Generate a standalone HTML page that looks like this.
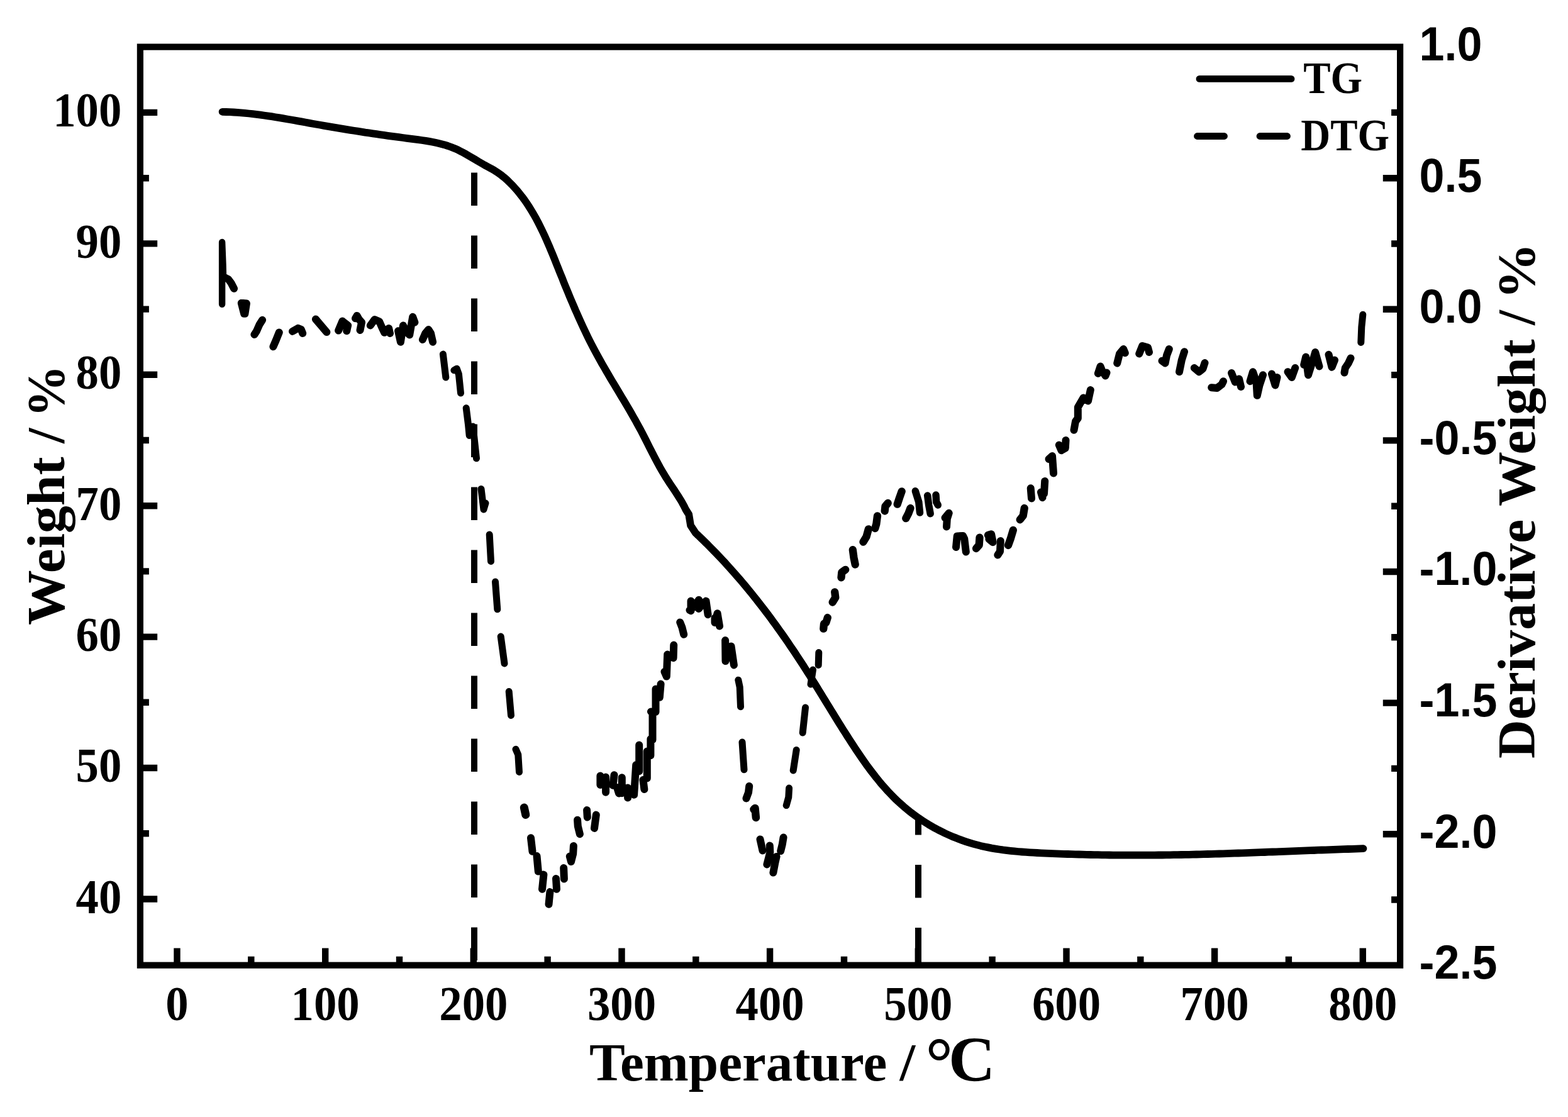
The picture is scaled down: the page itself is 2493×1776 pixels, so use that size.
<!DOCTYPE html>
<html lang="en"><head><meta charset="utf-8"><title>TG / DTG curves</title>
<style>
html,body{margin:0;padding:0;background:#fff;}
body{width:2493px;height:1776px;overflow:hidden;}
svg{display:block;}
</style></head>
<body>
<svg width="2493" height="1776" viewBox="0 0 2493 1776">
<rect x="222.9" y="74.6" width="2003.2" height="1460.1" fill="none" stroke="#000" stroke-width="10.2"/>
<path d="M281.5 1534.7V1507.4M399.3 1534.7V1520.7M517.2 1534.7V1507.4M635.0 1534.7V1520.7M752.8 1534.7V1507.4M870.6 1534.7V1520.7M988.5 1534.7V1507.4M1106.3 1534.7V1520.7M1224.1 1534.7V1507.4M1342.0 1534.7V1520.7M1459.8 1534.7V1507.4M1577.6 1534.7V1520.7M1695.5 1534.7V1507.4M1813.3 1534.7V1520.7M1931.1 1534.7V1507.4M2048.9 1534.7V1520.7M2166.8 1534.7V1507.4M222.9 1429.5H250.2M222.9 1325.3H236.9M222.9 1221.0H250.2M222.9 1116.8H236.9M222.9 1012.6H250.2M222.9 908.4H236.9M222.9 804.2H250.2M222.9 700.0H236.9M222.9 595.8H250.2M222.9 491.6H236.9M222.9 387.4H250.2M222.9 283.2H236.9M222.9 178.9H250.2M2226.1 1430.5H2212.1M2226.1 1326.2H2198.8M2226.1 1221.9H2212.1M2226.1 1117.6H2198.8M2226.1 1013.3H2212.1M2226.1 909.0H2198.8M2226.1 804.7H2212.1M2226.1 700.4H2198.8M2226.1 596.1H2212.1M2226.1 491.8H2198.8M2226.1 387.5H2212.1M2226.1 283.2H2198.8M2226.1 178.9H2212.1" stroke="#000" stroke-width="10.4" fill="none"/>
<g font-family="'Liberation Serif', serif" font-weight="bold" font-size="77.4px"><text transform="translate(281.50 1621.60) scale(0.9400 1)" text-anchor="middle">0</text><text transform="translate(517.16 1621.60) scale(0.9400 1)" text-anchor="middle">100</text><text transform="translate(752.82 1621.60) scale(0.9400 1)" text-anchor="middle">200</text><text transform="translate(988.48 1621.60) scale(0.9400 1)" text-anchor="middle">300</text><text transform="translate(1224.14 1621.60) scale(0.9400 1)" text-anchor="middle">400</text><text transform="translate(1459.80 1621.60) scale(0.9400 1)" text-anchor="middle">500</text><text transform="translate(1695.46 1621.60) scale(0.9400 1)" text-anchor="middle">600</text><text transform="translate(1931.12 1621.60) scale(0.9400 1)" text-anchor="middle">700</text><text transform="translate(2166.78 1621.60) scale(0.9400 1)" text-anchor="middle">800</text><text transform="translate(193.30 1451.87) scale(0.9400 1)" text-anchor="end">40</text><text transform="translate(193.30 1243.45) scale(0.9400 1)" text-anchor="end">50</text><text transform="translate(193.30 1035.03) scale(0.9400 1)" text-anchor="end">60</text><text transform="translate(193.30 826.61) scale(0.9400 1)" text-anchor="end">70</text><text transform="translate(193.30 618.19) scale(0.9400 1)" text-anchor="end">80</text><text transform="translate(193.30 409.77) scale(0.9400 1)" text-anchor="end">90</text><text transform="translate(193.30 201.35) scale(0.9400 1)" text-anchor="end">100</text></g>
<g font-family="'Liberation Sans', sans-serif" font-weight="bold" font-size="76px"><text transform="translate(2256.60 1556.10) scale(0.9450 1)" text-anchor="start">-2.5</text><text transform="translate(2256.60 1347.50) scale(0.9450 1)" text-anchor="start">-2.0</text><text transform="translate(2256.60 1138.90) scale(0.9450 1)" text-anchor="start">-1.5</text><text transform="translate(2256.60 930.30) scale(0.9450 1)" text-anchor="start">-1.0</text><text transform="translate(2256.60 721.70) scale(0.9450 1)" text-anchor="start">-0.5</text><text transform="translate(2256.60 513.10) scale(0.9450 1)" text-anchor="start">0.0</text><text transform="translate(2256.60 304.50) scale(0.9450 1)" text-anchor="start">0.5</text><text transform="translate(2256.60 95.90) scale(0.9450 1)" text-anchor="start">1.0</text></g>
<g font-family="'Liberation Serif', serif" font-weight="bold"><text transform="translate(0 1717.8)"><tspan x="937.0" y="0.0" textLength="473.2" lengthAdjust="spacingAndGlyphs" font-size="85.5px">Temperature</tspan><tspan> </tspan><tspan x="1430.4" y="0.0" textLength="24.7" lengthAdjust="spacingAndGlyphs" font-size="85.5px">/</tspan><tspan> </tspan><tspan x="1469.8" y="19.2" textLength="47.0" lengthAdjust="spacingAndGlyphs" font-size="120px" font-family="'Liberation Sans', sans-serif" font-weight="normal">°</tspan><tspan x="1507.9" y="1.5" textLength="74.3" lengthAdjust="spacingAndGlyphs" font-size="100.8px">C</tspan></text><text transform="translate(101.75 993) rotate(-90)"><tspan x="-1.0" y="0.0" textLength="267.8" lengthAdjust="spacingAndGlyphs" font-size="84px">Weight</tspan><tspan> </tspan><tspan x="288.0" y="0.0" textLength="24.3" lengthAdjust="spacingAndGlyphs" font-size="84px">/</tspan><tspan> </tspan><tspan x="329.6" y="0.0" textLength="83.0" lengthAdjust="spacingAndGlyphs" font-size="84px">%</tspan></text><text transform="translate(2440.0 1205) rotate(-90)"><tspan x="-1.0" y="0.0" textLength="380.2" lengthAdjust="spacingAndGlyphs" font-size="84px">Derivative</tspan><tspan> </tspan><tspan x="400.0" y="0.0" textLength="265.7" lengthAdjust="spacingAndGlyphs" font-size="84px">Weight</tspan><tspan> </tspan><tspan x="688.0" y="0.0" textLength="23.8" lengthAdjust="spacingAndGlyphs" font-size="84px">/</tspan><tspan> </tspan><tspan x="729.1" y="0.0" textLength="90.0" lengthAdjust="spacingAndGlyphs" font-size="84px">%</tspan></text></g>
<g font-family="'Liberation Serif', serif" font-weight="bold" font-size="71px"><text transform="translate(2072.20 148.00) scale(0.9150 1)" text-anchor="start">TG</text><text transform="translate(2068.30 238.70) scale(0.9150 1)" text-anchor="start">DTG</text></g>
<g stroke="#000" stroke-width="10.8" stroke-linecap="round" fill="none"><path d="M1907 125.4H2053"/><path d="M1903.5 216.5H1946.5M2003 216.5H2046.5"/></g>
<path d="M754 274.5V327.0M754 374.5V427.0M754 474.5V527.0M754 574.5V627.0M754 674.5V727.0M754 774.5V827.0M754 874.5V927.0M754 974.5V1027.0M754 1074.5V1127.0M754 1174.5V1227.0M754 1274.5V1327.0M754 1374.5V1427.0M754 1474.5V1527.0M1460 1298V1327.6M1460 1375V1427.5M1460 1475V1527.5" stroke="#000" stroke-width="10" fill="none"/>
<path d="M353.6 177.8L359.6 178.0L365.6 178.2L371.7 178.5L377.7 178.9L383.7 179.4L389.7 179.9L395.7 180.5L401.7 181.2L407.7 181.9L413.7 182.6L419.7 183.5L425.7 184.3L431.7 185.2L437.7 186.2L443.6 187.1L449.6 188.1L455.6 189.2L461.6 190.2L467.6 191.3L473.5 192.4L479.5 193.4L485.5 194.5L491.4 195.6L497.4 196.7L503.3 197.8L509.3 198.8L515.2 199.9L521.2 200.9L527.1 201.9L533.1 202.9L539.0 203.9L545.0 204.9L550.9 205.9L556.9 206.8L562.8 207.8L568.8 208.7L574.8 209.6L580.7 210.6L586.7 211.4L592.7 212.3L598.6 213.2L604.6 214.1L610.6 214.9L616.6 215.8L622.6 216.6L628.6 217.4L634.6 218.2L640.7 219.0L646.7 219.8L652.7 220.6L658.8 221.4L664.8 222.2L670.9 223.0L676.9 223.9L682.9 224.9L688.8 226.0L694.7 227.3L700.6 228.7L706.4 230.2L712.1 232.0L717.7 234.0L723.3 236.2L728.8 238.7L734.1 241.4L739.4 244.3L744.7 247.3L749.9 250.3L755.1 253.4L760.2 256.5L765.4 259.5L770.6 262.5L775.9 265.4L781.2 268.2L786.4 271.2L791.5 274.4L796.4 278.0L801.2 281.8L805.8 285.8L810.2 290.1L814.5 294.4L818.6 298.9L822.6 303.4L826.4 308.1L830.1 312.8L833.7 317.6L837.1 322.5L840.4 327.5L843.6 332.6L846.7 337.7L849.7 342.9L852.7 348.2L855.5 353.5L858.2 358.9L860.9 364.3L863.5 369.7L866.1 375.2L868.6 380.8L871.0 386.3L873.4 391.9L875.7 397.5L878.1 403.1L880.4 408.8L882.7 414.4L884.9 420.1L887.2 425.7L889.4 431.4L891.7 437.0L894.0 442.6L896.2 448.3L898.5 453.9L900.8 459.5L903.1 465.1L905.4 470.7L907.7 476.2L910.1 481.8L912.5 487.4L914.8 492.9L917.3 498.4L919.7 503.9L922.2 509.4L924.7 514.9L927.2 520.4L929.8 525.8L932.4 531.3L935.0 536.7L937.7 542.1L940.4 547.4L943.2 552.8L946.0 558.1L948.9 563.4L951.8 568.7L954.8 574.0L957.7 579.3L960.8 584.5L963.8 589.7L966.9 595.0L969.9 600.2L973.0 605.4L976.1 610.6L979.3 615.8L982.4 621.0L985.5 626.2L988.6 631.4L991.7 636.6L994.8 641.8L997.9 647.0L1001.0 652.3L1004.0 657.5L1007.0 662.8L1010.0 668.0L1012.9 673.3L1015.8 678.6L1018.7 683.9L1021.5 689.3L1024.3 694.7L1027.0 700.0L1029.7 705.4L1032.4 710.8L1035.2 716.2L1037.9 721.6L1040.7 726.9L1043.5 732.3L1046.3 737.6L1049.2 742.9L1052.2 748.1L1055.3 753.3L1058.4 758.5L1061.7 763.6L1065.0 768.7L1068.4 773.7L1071.8 778.8L1075.1 783.9L1078.4 789.0L1081.6 794.1L1084.7 799.3L1087.6 804.6L1090.2 810.0L1095.2 818.0L1098.1 835.6L1106.0 847.5L1110.4 851.6L1114.7 855.8L1119.1 860.0L1123.4 864.2L1127.6 868.5L1131.9 872.8L1136.1 877.1L1140.3 881.4L1144.4 885.8L1148.6 890.2L1152.7 894.6L1156.7 899.1L1160.8 903.6L1164.8 908.1L1168.8 912.6L1172.7 917.1L1176.7 921.7L1180.6 926.3L1184.5 930.9L1188.3 935.5L1192.2 940.2L1196.0 944.9L1199.7 949.6L1203.5 954.3L1207.2 959.1L1210.9 963.8L1214.6 968.6L1218.2 973.4L1221.9 978.2L1225.5 983.1L1229.0 987.9L1232.6 992.8L1236.1 997.7L1239.6 1002.6L1243.1 1007.5L1246.6 1012.5L1250.0 1017.4L1253.5 1022.4L1256.8 1027.4L1260.2 1032.4L1263.6 1037.4L1266.9 1042.4L1270.2 1047.4L1273.5 1052.5L1276.8 1057.5L1280.0 1062.6L1283.2 1067.7L1286.5 1072.7L1289.6 1077.8L1292.8 1082.9L1296.0 1088.0L1299.2 1093.2L1302.3 1098.3L1305.5 1103.4L1308.6 1108.5L1311.8 1113.7L1314.9 1118.8L1318.1 1123.9L1321.2 1129.0L1324.4 1134.2L1327.6 1139.3L1330.7 1144.4L1333.9 1149.6L1337.1 1154.7L1340.3 1159.8L1343.6 1164.9L1346.8 1170.0L1350.1 1175.1L1353.4 1180.2L1356.7 1185.3L1360.0 1190.4L1363.4 1195.4L1366.8 1200.4L1370.2 1205.4L1373.7 1210.4L1377.2 1215.4L1380.8 1220.3L1384.4 1225.1L1388.1 1229.9L1391.8 1234.7L1395.6 1239.4L1399.4 1244.1L1403.3 1248.7L1407.3 1253.2L1411.4 1257.7L1415.5 1262.0L1419.7 1266.3L1423.9 1270.6L1428.3 1274.7L1432.7 1278.7L1437.2 1282.7L1441.8 1286.5L1446.5 1290.3L1451.3 1294.0L1456.1 1297.5L1461.0 1301.0L1466.0 1304.3L1471.1 1307.6L1476.2 1310.8L1481.4 1313.8L1486.6 1316.8L1491.9 1319.6L1497.3 1322.3L1502.7 1325.0L1508.2 1327.5L1513.7 1329.9L1519.2 1332.1L1524.8 1334.3L1530.5 1336.4L1536.2 1338.3L1541.9 1340.1L1547.7 1341.8L1553.5 1343.4L1559.3 1344.9L1565.2 1346.2L1571.0 1347.4L1576.9 1348.6L1582.9 1349.6L1588.8 1350.5L1594.8 1351.4L1600.8 1352.1L1606.8 1352.8L1612.8 1353.4L1618.8 1354.0L1624.9 1354.5L1630.9 1354.9L1637.0 1355.3L1643.0 1355.7L1649.1 1356.0L1655.1 1356.3L1661.2 1356.6L1667.2 1356.9L1673.3 1357.1L1679.3 1357.3L1685.4 1357.6L1691.4 1357.8L1697.5 1358.0L1703.5 1358.2L1709.5 1358.4L1715.6 1358.5L1721.6 1358.7L1727.6 1358.8L1733.7 1359.0L1739.7 1359.1L1745.7 1359.2L1751.7 1359.3L1757.7 1359.4L1763.8 1359.5L1769.8 1359.6L1775.8 1359.6L1781.8 1359.7L1787.8 1359.7L1793.8 1359.7L1799.9 1359.7L1805.9 1359.7L1811.9 1359.7L1817.9 1359.7L1823.9 1359.7L1830.0 1359.7L1836.0 1359.6L1842.0 1359.5L1848.0 1359.5L1854.0 1359.4L1860.1 1359.3L1866.1 1359.2L1872.1 1359.1L1878.1 1359.0L1884.2 1358.9L1890.2 1358.8L1896.2 1358.6L1902.3 1358.5L1908.3 1358.3L1914.3 1358.2L1920.3 1358.0L1926.4 1357.8L1932.4 1357.7L1938.4 1357.5L1944.5 1357.3L1950.5 1357.1L1956.5 1356.9L1962.6 1356.7L1968.6 1356.5L1974.6 1356.3L1980.7 1356.1L1986.7 1355.9L1992.7 1355.6L1998.8 1355.4L2004.8 1355.2L2010.8 1355.0L2016.8 1354.7L2022.9 1354.5L2028.9 1354.3L2034.9 1354.1L2041.0 1353.8L2047.0 1353.6L2053.0 1353.4L2059.1 1353.1L2065.1 1352.9L2071.1 1352.7L2077.2 1352.4L2083.2 1352.2L2089.2 1352.0L2095.2 1351.7L2101.3 1351.5L2107.3 1351.3L2113.3 1351.1L2119.3 1350.9L2125.4 1350.6L2131.4 1350.4L2137.4 1350.2L2143.4 1350.0L2149.4 1349.8L2155.5 1349.6L2161.5 1349.4L2167.5 1349.2" stroke="#000" stroke-width="11.8" stroke-linecap="round" stroke-linejoin="round" fill="none"/>
<path d="M353.1 483.8L353.1 385.0L354.5 420.0L355.0 440.0" stroke="#000" stroke-width="10.4" stroke-linecap="round" stroke-linejoin="round" fill="none"/>
<path d="M704.4 563.1L708.8 600.0M721.9 588.8L726.2 586.2L729.4 595.0L732.5 625.0M741.2 648.8L744.5 675.0L746.2 692.5L752.0 678.0L757.5 728.8M765.0 777.5L769.0 810.0L772.0 800.0M778.2 850.0L780.5 892.5M787.5 925.0L790.8 968.8M796.2 1012.0L802.0 1055.0M809.2 1099.5L812.5 1137.5M820.0 1191.2L823.8 1200.0L825.5 1227.5M1173.8 1081.2L1176.2 1092.5L1177.5 1123.8M1180.0 1180.0L1183.0 1223.8M1254.6 1253.1L1253.8 1267.5L1250.2 1280.6M1266.2 1192.5L1261.2 1225.0M1280.5 1125.0L1276.2 1165.0M1292.5 1065.0L1289.0 1088.0M1301.8 1037.5L1301.2 1057.5M2163.8 544.5L2164.8 520.0L2166.8 500.3" stroke="#000" stroke-width="11" stroke-linecap="round" stroke-linejoin="round" fill="none"/>
<path d="M1455.3 780.8L1460.8 798.3L1462.5 815.0M1474.7 788.0L1476.7 803.3L1479.2 816.7M1488.0 787.0L1488.7 798.3L1491.3 803.0" stroke="#000" stroke-width="11.5" stroke-linecap="round" stroke-linejoin="round" fill="none"/>
<path d="M355.0 440.0L363.0 444.0L367.5 450.0L372.0 458.8M383.8 481.9L388.1 498.8L389.4 498.8L391.9 482.5L386.0 482.0M417.1 508.8L412.5 516.2L408.1 526.2L404.4 532.0M443.8 528.5L438.8 541.0L434.4 551.2M465.0 526.9L473.8 521.9L478.8 523.8L481.2 530.0M501.9 507.5L519.4 528.1M538.1 525.6L544.4 510.6L553.1 517.5L551.2 526.2M565.0 506.2L567.5 501.9L570.6 507.5L575.0 512.5L572.5 525.0M588.8 517.5L595.6 508.1L603.1 511.2L607.5 521.2L611.2 528.8L618.1 521.9L620.0 530.0M633.1 526.2L636.9 543.8L641.0 517.5L645.0 526.2L651.2 532.5L656.2 503.8L659.4 512.5M671.9 540.0L676.2 530.0L681.2 524.0L685.0 530.0L688.1 543.8M844.0 1332.2L846.5 1353.8M853.5 1361.0L855.8 1385.6M864.4 1390.6L862.0 1413.8M874.4 1418.1L872.5 1437.8M884.0 1396.9L885.0 1413.8M896.2 1380.0L896.9 1397.5M905.8 1361.5L908.0 1370.0L911.2 1357.5L911.9 1345.0M918.1 1303.8L918.8 1313.8L921.9 1326.2M933.1 1288.1L933.8 1299.4M947.8 1295.6L945.0 1316.9M954.4 1233.5L954.4 1248.1M963.1 1235.6L963.1 1259.8M974.5 1248.8L976.5 1232.2M981.0 1252.0L984.0 1261.5M988.8 1236.2L988.8 1261.2M998.1 1252.5L998.1 1268.5M1011.2 1216.2L1008.1 1263.8M1016.2 1184.4L1016.2 1226.2M1022.5 1240.0L1024.4 1255.0M1028.8 1194.4L1028.8 1237.5M1034.4 1175.0L1034.4 1201.2M1035.0 1131.5L1037.5 1132.5L1037.5 1176.2M1042.5 1095.6L1042.5 1131.9M1050.6 1087.5L1048.8 1108.8M1071.2 1025.6L1070.6 1046.2L1061.2 1040.6L1059.8 1075.6L1056.5 1068.0M1081.2 989.4L1084.4 997.5L1087.2 1008.8M1096.5 970.0L1098.5 971.2L1098.5 955.6L1104.5 965.0L1111.0 953.8L1111.0 968.0L1117.0 960.0L1122.5 955.6L1125.6 977.2M1136.5 982.5L1136.5 990.0L1140.6 975.2L1144.0 995.6M1153.1 1018.1L1153.5 1051.2L1162.5 1027.5L1166.9 1057.5M1191.2 1250.0L1190.0 1260.0L1186.5 1269.4M1208.5 1334.4L1212.5 1352.5M1223.8 1344.4L1224.4 1355.0L1219.4 1374.4M1234.6 1361.9L1232.5 1371.2L1229.4 1387.5M1245.6 1331.5L1243.8 1342.5L1241.2 1353.1M1502.5 823.3L1508.7 815.8L1505.8 825.0L1505.0 837.5M1520.0 870.0L1521.7 852.5L1531.0 852.0L1533.3 856.7L1535.8 877.5M1590.8 860.0L1590.0 876.7L1586.3 882.5M1638.7 776.3L1640.0 792.5M1661.2 765.0L1660.0 785.0L1655.0 782.5L1657.5 791.2M1667.5 730.0L1673.0 725.0L1675.0 752.5M1683.8 707.5L1687.5 716.2L1693.8 712.5L1694.5 700.0M1707.5 683.8L1710.0 670.0L1713.8 665.0L1713.8 647.5L1722.5 632.5L1730.0 637.5L1733.8 620.0M1745.8 593.8L1749.5 582.5L1752.5 590.0L1757.5 597.5L1759.5 592.5M1776.2 577.5L1780.0 562.5L1786.2 555.0L1788.8 561.2M1811.2 562.5L1816.2 550.0L1825.0 552.5L1827.0 560.0M1847.5 573.8L1852.5 577.5L1855.0 565.0L1858.8 555.0M1875.0 591.2L1878.8 572.5L1883.0 559.2M1898.8 585.0L1906.2 591.2L1912.5 586.2L1915.5 577.0M1926.2 616.2L1935.0 617.0L1942.5 611.2L1945.0 606.2M1958.0 593.0L1963.8 607.5L1970.0 602.5L1973.0 615.0M1987.5 606.2L1992.0 591.2L1997.5 607.5L1998.8 628.8L2002.5 612.5L2008.0 596.2M2022.0 594.5L2027.5 612.5L2030.5 600.0M2047.5 591.2L2053.8 600.0L2059.2 585.0M2073.2 580.0L2076.2 567.5L2080.0 596.2L2087.5 572.5L2091.2 560.0L2097.5 582.5M2112.5 563.8L2117.5 583.8L2122.0 572.5M2137.5 592.5L2138.8 585.0L2143.8 577.5L2147.5 569.5" stroke="#000" stroke-width="12" stroke-linecap="round" stroke-linejoin="round" fill="none"/>
<path d="M1315.8 982.0L1313.3 990.0L1310.0 991.7L1309.3 999.7M1327.2 941.3L1328.3 950.0L1323.7 957.5M1344.2 905.8L1338.3 910.0L1337.5 918.3M1355.8 874.2L1357.5 886.7L1359.7 897.5M1380.8 841.3L1377.5 853.3L1372.5 861.7M1395.0 820.3L1393.3 833.3L1391.3 840.0M1411.7 800.0L1407.5 805.0L1406.7 812.5M1433.7 781.3L1430.0 791.7L1426.7 801.7M1447.5 808.0L1444.2 816.7L1440.3 824.2M1557.5 854.7L1556.7 866.7L1552.0 872.0M1571.0 851.0L1576.0 849.5L1578.5 862.0L1572.5 857.0M1610.8 843.0L1606.7 856.7L1603.0 867.0M1628.7 808.0L1626.7 820.0L1621.7 826.3" stroke="#000" stroke-width="12.3" stroke-linecap="round" stroke-linejoin="round" fill="none"/>
<path d="M1198.5 1287.0L1200.5 1285.0L1201.9 1300.0" stroke="#000" stroke-width="12.5" stroke-linecap="round" stroke-linejoin="round" fill="none"/>
<path d="M833.3 1284.0L835.8 1295.5" stroke="#000" stroke-width="13" stroke-linecap="round" stroke-linejoin="round" fill="none"/>
</svg>
</body></html>
